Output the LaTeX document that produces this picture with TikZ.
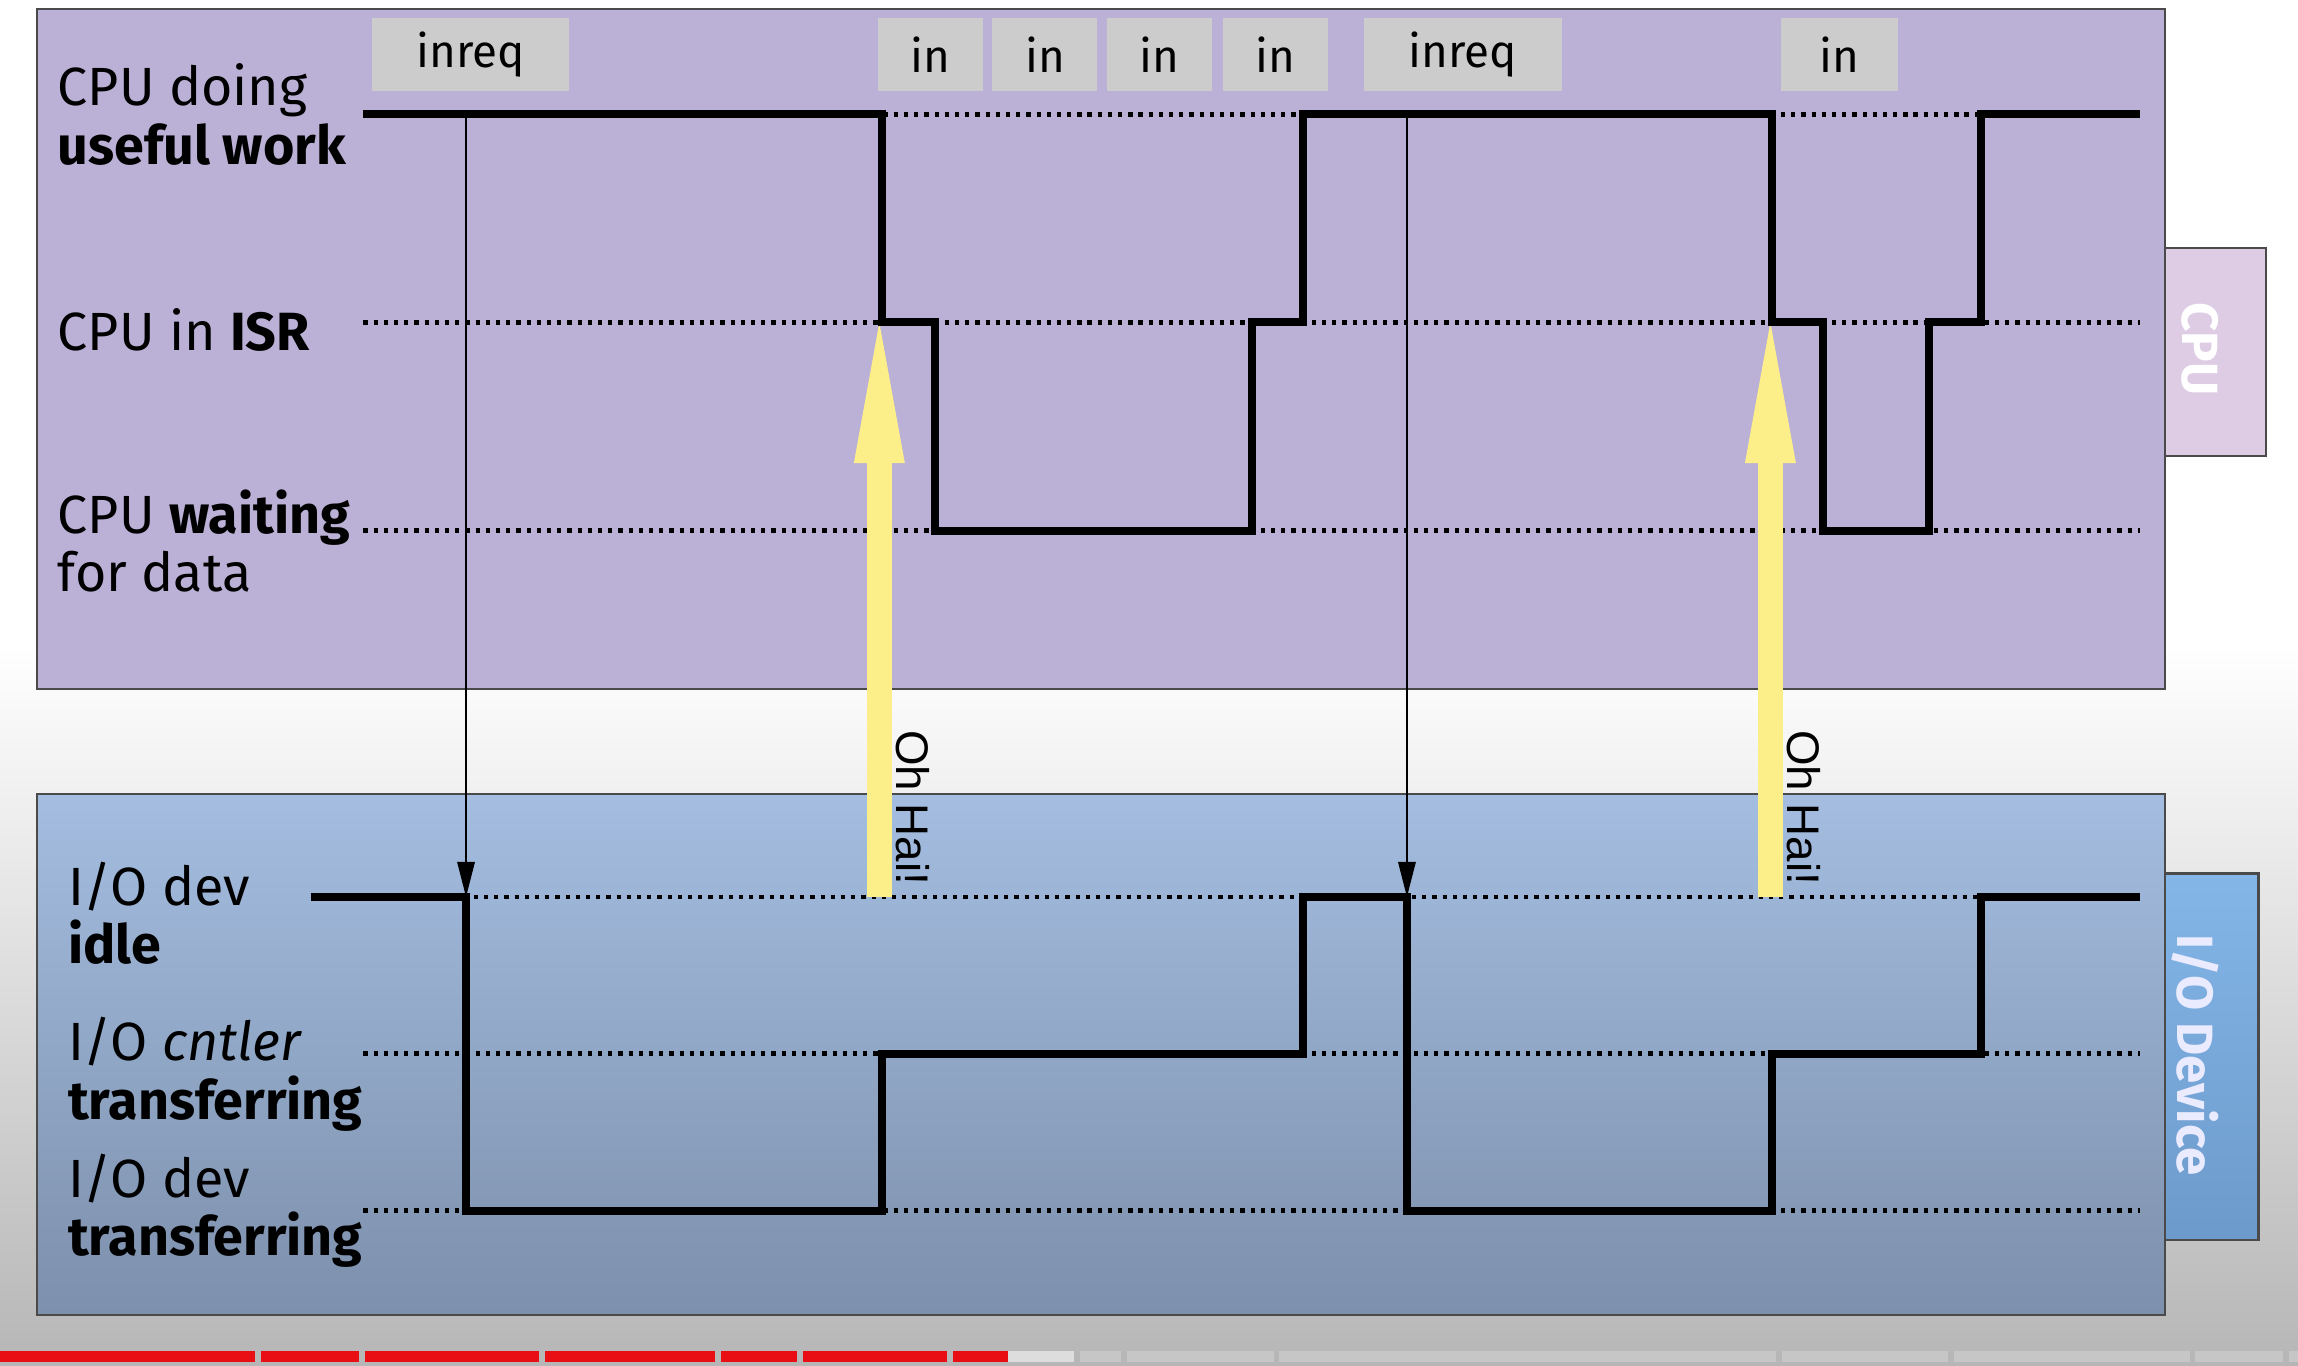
\documentclass[tikz,border=0pt]{standalone}
\usepackage{fontspec}
\setmainfont{Fira Sans}
\newfontfamily\haifont{Liberation Sans}
\usetikzlibrary{arrows.meta}

\definecolor{cpubg}{HTML}{BBB0D6}
\definecolor{cputab}{HTML}{DDCCE4}
\definecolor{iotop}{HTML}{A4BDE0}
\definecolor{iobot}{HTML}{7D90AC}
\definecolor{tabtop}{HTML}{84B6E8}
\definecolor{tabbot}{HTML}{6C9ACB}
\definecolor{boxgray}{HTML}{CCCCCC}
\definecolor{haiyellow}{HTML}{FCEF8A}
\definecolor{edge}{HTML}{4A4A4A}
\definecolor{bggray}{HTML}{B6B6B6}
\definecolor{ytred}{HTML}{E80E14}
\definecolor{ytgray}{HTML}{C6C6C6}
\definecolor{ytlight}{HTML}{DDDDDD}

\tikzset{
  lbl/.style={anchor=west, align=left, inner sep=0pt, font=\fontsize{15.3}{16.6}\selectfont},
  opbox/.style={fill=boxgray, inner sep=0pt, minimum height=0.733cm, font=\fontsize{13}{15}\selectfont},
  level/.style={line width=1.3pt, dash pattern=on 1.2pt off 1.7pt},
  wave/.style={line width=2.3pt},
  req/.style={line width=0.45pt, -{Triangle[length=10pt,width=5pt]}},
  hai/.style={line width=7pt, haiyellow, -{Triangle[length=40pt,width=14.5pt,line width=0pt]}},
  haitext/.style={rotate=-90, font=\haifont\fontsize{13}{15}\selectfont},
  tabtext/.style={rotate=-90, font=\bfseries\fontsize{14.5}{16}\selectfont}
}

\begin{document}
\begin{tikzpicture}[x=0.014656cm, y=-0.014656cm]
\useasboundingbox (0,0) rectangle (1568,932);

% background of the slide
\fill[white] (0,0) rectangle (1568,440);
\shade[top color=white, bottom color=bggray] (0,440) rectangle (1568,932);

% side tabs
\filldraw[fill=cputab, draw=edge, line width=0.6pt] (1440,169) rectangle (1546,311);
\shadedraw[top color=tabtop, bottom color=tabbot, draw=edge, line width=0.6pt] (1440,596) rectangle (1541,846);
\node[tabtext, text=white] (cputab) at (1501,238) {CPU};
\node[tabtext, text=blue!8!white] (iotab) at (1498,720) {I/O Device};

% panels
\filldraw[fill=cpubg, draw=edge, line width=0.6pt] (25,6) rectangle (1477,470);
\shadedraw[top color=iotop, bottom color=iobot, draw=edge, line width=0.6pt] (25,542) rectangle (1477,897);

% instructions on top
\node[opbox, minimum width=1.96cm] (inreq1) at (321,37) {inreq};
\node[opbox, minimum width=1.05cm] (in1) at (635,37) {in};
\node[opbox, minimum width=1.05cm] (in2) at (713,37) {in};
\node[opbox, minimum width=1.05cm] (in3) at (791,37) {in};
\node[opbox, minimum width=1.05cm] (in4) at (870,37) {in};
\node[opbox, minimum width=1.98cm] (inreq2) at (998,37) {inreq};
\node[opbox, minimum width=1.17cm] (in5) at (1255,37) {in};

% state names
\node[lbl] (cpuwork) at (39,78) {CPU doing\\\textbf{useful work}};
\node[lbl] (cpuisr) at (39,225) {CPU in \textbf{ISR}};
\node[lbl] (cpuwait) at (39,369) {CPU \textbf{waiting}\\for data};
\node[lbl] (ioidle) at (46,623) {I/O dev\\\textbf{idle}};
\node[lbl] (iocntl) at (46,733) {I/O \textit{cntler}\\\textbf{transferring}};
\node[lbl] (iodev) at (46,826) {I/O dev\\\textbf{transferring}};

% levels
\draw[level] (248,78) -- (1460,78);
\draw[level] (248,220) -- (1460,220);
\draw[level] (248,362) -- (1460,362);
\draw[level] (212,612) -- (1460,612);
\draw[level] (248,719) -- (1460,719);
\draw[level] (248,826) -- (1460,826);

% end points of the signals
\coordinate (req1) at (318,78);
\coordinate (dev1) at (318,612);
\coordinate (req2) at (960,78);
\coordinate (dev2) at (960,612);
\coordinate (irq1) at (600,612);
\coordinate (isr1) at (600,220);
\coordinate (irq2) at (1208,612);
\coordinate (isr2) at (1208,220);

% interrupts
\draw[hai] (irq1) -- (isr1);
\draw[hai] (irq2) -- (isr2);
\node[haitext] (hai1) at (623,551) {Oh Hai!};
\node[haitext] (hai2) at (1231,551) {Oh Hai!};

% CPU
\draw[wave] (248,78) -- (602,78) -- (602,220) -- (638,220) -- (638,362) -- (854,362)
  -- (854,220) -- (889,220) -- (889,78) -- (1209,78) -- (1209,220) -- (1244,220)
  -- (1244,362) -- (1316,362) -- (1316,220) -- (1352,220) -- (1352,78) -- (1460,78);

% I/O device
\draw[wave] (212,612) -- (318,612) -- (318,826) -- (602,826) -- (602,719) -- (889,719)
  -- (889,612) -- (960,612) -- (960,826) -- (1209,826) -- (1209,719) -- (1352,719)
  -- (1352,612) -- (1460,612);

% requests
\draw[req] (req1) -- (dev1);
\draw[req] (req2) -- (dev2);

% player bar
\fill[ytred] (0,922) rectangle (174,929);
\fill[ytred] (178,922) rectangle (245,929);
\fill[ytred] (249,922) rectangle (368,929);
\fill[ytred] (372,922) rectangle (488,929);
\fill[ytred] (492,922) rectangle (544,929);
\fill[ytred] (548,922) rectangle (646,929);
\fill[ytred] (650,922) rectangle (688,929);
\fill[ytlight] (688,922) rectangle (733,929);
\fill[ytgray] (737,922) rectangle (765,929);
\fill[ytgray] (769,922) rectangle (869,929);
\fill[ytgray] (873,922) rectangle (1212,929);
\fill[ytgray] (1216,922) rectangle (1329,929);
\fill[ytgray] (1333,922) rectangle (1494,929);
\fill[ytgray] (1498,922) rectangle (1558,929);
\fill[ytgray] (1562,922) rectangle (1568,929);
\end{tikzpicture}
\end{document}
